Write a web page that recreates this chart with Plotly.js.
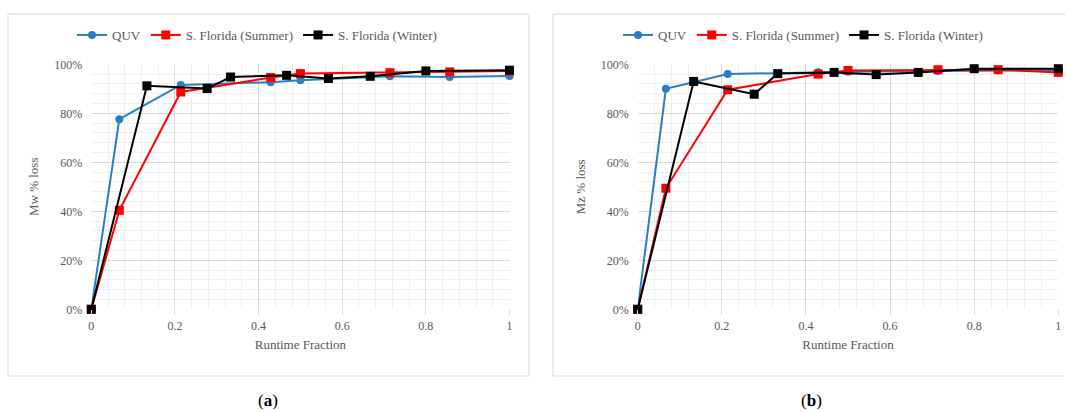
<!DOCTYPE html>
<html>
<head>
<meta charset="utf-8">
<script src="https://cdn.plot.ly/plotly-3.0.1.min.js"></script>
<style>html,body{margin:0;padding:0;background:#fff;}#chart{width:1065px;height:412px;}</style>
</head>
<body>
<div id="chart"></div>
<script>
// Runtime fractions
const tQUV = [0, 0.067, 0.214, 0.429, 0.5, 0.714, 0.857, 1];
const tSummer = [0, 0.067, 0.214, 0.429, 0.5, 0.714, 0.857, 1];
const tWinter = [0, 0.133, 0.277, 0.333, 0.467, 0.567, 0.667, 0.8, 1];
// (a) Mw % loss
const mwQUV = [0, 77.6, 91.6, 92.7, 93.5, 95.1, 94.8, 95.2];
const mwSummer = [0, 40.4, 88.7, 94.6, 96.2, 96.6, 96.9, 97.3];
const mwWinter = [0, 91.2, 90.1, 94.8, 95.5, 94.2, 95.1, 97.3, 97.6];
// (b) Mz % loss
const mzQUV = [0, 90.0, 96.0, 96.8, 97.0, 97.3, 97.6, 97.6];
const mzSummer = [0, 49.4, 89.6, 96.0, 97.5, 97.8, 97.8, 96.7];
const mzWinter = [0, 93.0, 87.8, 96.2, 96.7, 95.8, 96.7, 98.2, 98.2];

const seriesNames = ['QUV', 'S. Florida (Summer)', 'S. Florida (Winter)'];
const xTickVals = [0, 0.2, 0.4, 0.6, 0.8, 1];
const xTickText = ['0', '0.2', '0.4', '0.6', '0.8', '1'];
const yTickVals = [0, 20, 40, 60, 80, 100];
const yTickText = ['0%', '20%', '40%', '60%', '80%', '100%'];
const panelLabels = ['a', 'b'];
const yTitles = ['Mw % loss', 'Mz % loss'];
const xTitle = 'Runtime Fraction';

const W = 1065, H = 412;
const colors = ['#2a7fc4', '#ff0000', '#000000'];
const symbols = ['circle', 'square', 'square'];
const msize = [8, 9, 9];
const FONT = 'Liberation Serif';
const TXT = '#595959';

function mk(x, y, i, xa, ya, leg, smooth) {
  return {
    x: x, y: y, xaxis: xa, yaxis: ya, legend: leg,
    type: 'scatter', mode: 'lines+markers', name: seriesNames[i],
    line: {color: colors[i], width: 2, shape: smooth ? 'spline' : 'linear', smoothing: 0.5},
    marker: {color: colors[i], symbol: symbols[i], size: msize[i]},
    cliponaxis: false
  };
}
const data = [
  mk(tQUV, mwQUV, 0, 'x', 'y', 'legend'),
  mk(tSummer, mwSummer, 1, 'x', 'y', 'legend'),
  mk(tWinter, mwWinter, 2, 'x', 'y', 'legend'),
  mk(tQUV, mzQUV, 0, 'x2', 'y2', 'legend2'),
  mk(tSummer, mzSummer, 1, 'x2', 'y2', 'legend2'),
  mk(tWinter, mzWinter, 2, 'x2', 'y2', 'legend2')
];

function xa(domain, anchor) {
  return {
    domain: domain, anchor: anchor, range: [0, 1], fixedrange: true,
    tickvals: xTickVals, ticktext: xTickText,
    tickfont: {family: FONT, size: 12, color: TXT},
    showgrid: true, gridcolor: '#d9d9d9', gridwidth: 1,
    zeroline: false, showline: false,
    ticks: 'outside', ticklen: 5, tickcolor: '#d9d9d9',
    minor: {dtick: 0.04, tick0: 0, showgrid: true, gridcolor: '#efefef', gridwidth: 1, ticks: ''},
    title: {text: xTitle, font: {family: FONT, size: 13, color: TXT}, standoff: 8},
    automargin: false
  };
}
function ya(domain, anchor, t) {
  return {
    domain: domain, anchor: anchor, range: [0, 100], fixedrange: true,
    tickvals: yTickVals, ticktext: yTickText,
    tickfont: {family: FONT, size: 12, color: TXT},
    showgrid: true, gridcolor: '#d9d9d9', gridwidth: 1,
    zeroline: false, showline: false, ticks: '',
    ticklabelstandoff: 8,
    minor: {dtick: 4, tick0: 0, showgrid: true, gridcolor: '#efefef', gridwidth: 1, ticks: ''},
    title: {text: t, font: {family: FONT, size: 13, color: TXT}, standoff: 12},
    automargin: false
  };
}
const yDom = [1 - 309.3 / H, 1 - 64.3 / H];
const layout = {
  width: W, height: H,
  margin: {l: 0, r: 0, t: 0, b: 0},
  paper_bgcolor: '#ffffff', plot_bgcolor: '#ffffff',
  font: {family: FONT, color: TXT},
  showlegend: true,
  xaxis: xa([91.3 / W, 509.5 / W], 'y'),
  yaxis: ya(yDom, 'x', yTitles[0]),
  xaxis2: xa([637.7 / W, 1058.3 / W], 'y2'),
  yaxis2: ya(yDom, 'x2', yTitles[1]),
  legend: {orientation: 'h', x: 72 / W, xanchor: 'left', y: 1 - 35 / H, yanchor: 'middle',
    font: {family: FONT, size: 13, color: TXT}, itemwidth: 30, bgcolor: 'rgba(0,0,0,0)'},
  legend2: {orientation: 'h', x: 618 / W, xanchor: 'left', y: 1 - 35 / H, yanchor: 'middle',
    font: {family: FONT, size: 13, color: TXT}, itemwidth: 30, bgcolor: 'rgba(0,0,0,0)'},
  shapes: [
    {type: 'rect', xref: 'paper', yref: 'paper', x0: 8 / W, x1: 529 / W, y0: 1 - 376 / H, y1: 1 - 14 / H,
     line: {color: '#d9d9d9', width: 1}, fillcolor: 'rgba(0,0,0,0)', layer: 'below'},
    {type: 'rect', xref: 'paper', yref: 'paper', x0: 553 / W, x1: 1075 / W, y0: 1 - 376 / H, y1: 1 - 14 / H,
     line: {color: '#d9d9d9', width: 1}, fillcolor: 'rgba(0,0,0,0)', layer: 'below'}
  ],
  annotations: [
    {xref: 'paper', yref: 'paper', x: 268 / W, y: 1 - 400 / H, xanchor: 'center', yanchor: 'middle',
     text: '(<b>' + panelLabels[0] + '</b>)', showarrow: false, font: {family: FONT, size: 17, color: '#000'}},
    {xref: 'paper', yref: 'paper', x: 812 / W, y: 1 - 400 / H, xanchor: 'center', yanchor: 'middle',
     text: '(<b>' + panelLabels[1] + '</b>)', showarrow: false, font: {family: FONT, size: 17, color: '#000'}}
  ]
};
Plotly.newPlot('chart', data, layout, {displayModeBar: false, staticPlot: true});
</script>
</body>
</html>
